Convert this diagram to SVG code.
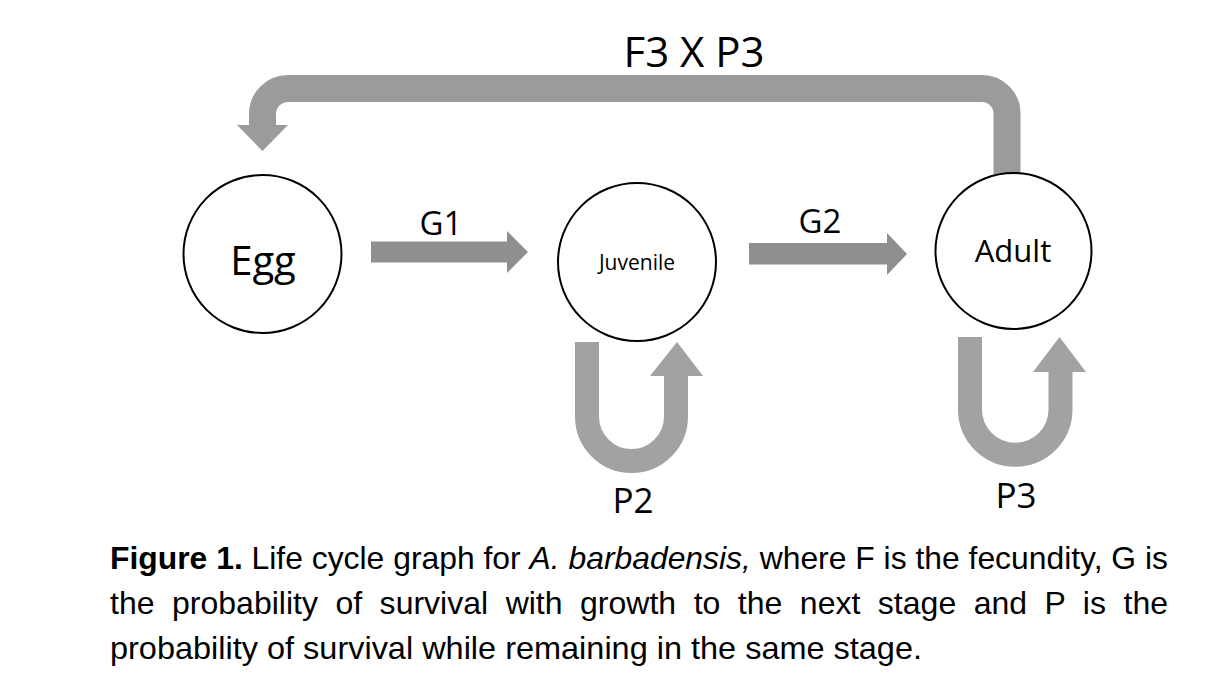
<svg xmlns="http://www.w3.org/2000/svg" width="1230" height="680" viewBox="0 0 1230 680">
<style>
.node{fill:#ffffff;stroke:#000000;stroke-width:2}
.lbl{font-family:"Open Sans","Liberation Sans",sans-serif;fill:#000000;text-anchor:middle}
.band{fill:none;stroke-linecap:butt;stroke-linejoin:round}
.cap{font-family:"Liberation Sans",Arial,sans-serif;font-size:32px;fill:#000000}
</style>
<rect x="0" y="0" width="1230" height="680" fill="#ffffff"/>
<g id="connectors">
  <g id="fecundity">
    <path class="band" stroke="#9b9b9b" stroke-width="27" d="M1007,177 V114 A25,25 0 0 0 982,88.5 H288 A25.5,25.5 0 0 0 262.5,114 V126"/>
    <polygon fill="#9b9b9b" points="237,125 288,125 262.5,151"/>
    <text class="lbl" x="694" y="67" font-size="42">F3 X P3</text>
  </g>
  <g id="g1">
    <polygon fill="#8f8f8f" points="371,241.5 507,241.5 507,231 528,252 507,273 507,262.5 371,262.5"/>
    <text class="lbl" x="441" y="235" font-size="33">G1</text>
  </g>
  <g id="g2">
    <polygon fill="#8f8f8f" points="749,243 887,243 887,233 907,254 887,275 887,264.5 749,264.5"/>
    <text class="lbl" x="820" y="233" font-size="33">G2</text>
  </g>
  <g id="p2">
    <path class="band" stroke="#a2a2a2" stroke-width="24" d="M587,342 V416.5 A44.5,44.5 0 0 0 676,416.5 V375"/>
    <polygon fill="#a2a2a2" points="650,376 703,376 677,342"/>
    <text class="lbl" x="633" y="513" font-size="35">P2</text>
  </g>
  <g id="p3">
    <path class="band" stroke="#a2a2a2" stroke-width="24" d="M970,337 V409.5 A45.25,45.25 0 0 0 1060.5,409.5 V371"/>
    <polygon fill="#a2a2a2" points="1033,372 1086,372 1059.5,337"/>
    <text class="lbl" x="1016" y="508" font-size="35">P3</text>
  </g>
</g>
<g id="egg">
  <circle class="node" cx="262.5" cy="254" r="79"/>
  <text class="lbl" x="263" y="275" font-size="40">Egg</text>
</g>
<g id="juvenile">
  <circle class="node" cx="637" cy="262" r="79"/>
  <text class="lbl" x="637" y="270" font-size="21">Juvenile</text>
</g>
<g id="adult">
  <circle class="node" cx="1013.5" cy="251" r="78"/>
  <text class="lbl" x="1013" y="262" font-size="31">Adult</text>
</g>
<g id="caption">
  <text class="cap" x="110" y="569" textLength="1058" lengthAdjust="spacingAndGlyphs"><tspan font-weight="bold">Figure 1.</tspan> Life cycle graph for <tspan font-style="italic">A. barbadensis,</tspan> where F is the fecundity, G is</text>
  <text class="cap" x="110" y="614" word-spacing="8.6" textLength="1058" lengthAdjust="spacingAndGlyphs">the probability of survival with growth to the next stage and P is the</text>
  <text class="cap" x="110" y="659" textLength="812" lengthAdjust="spacingAndGlyphs">probability of survival while remaining in the same stage.</text>
</g>
</svg>
